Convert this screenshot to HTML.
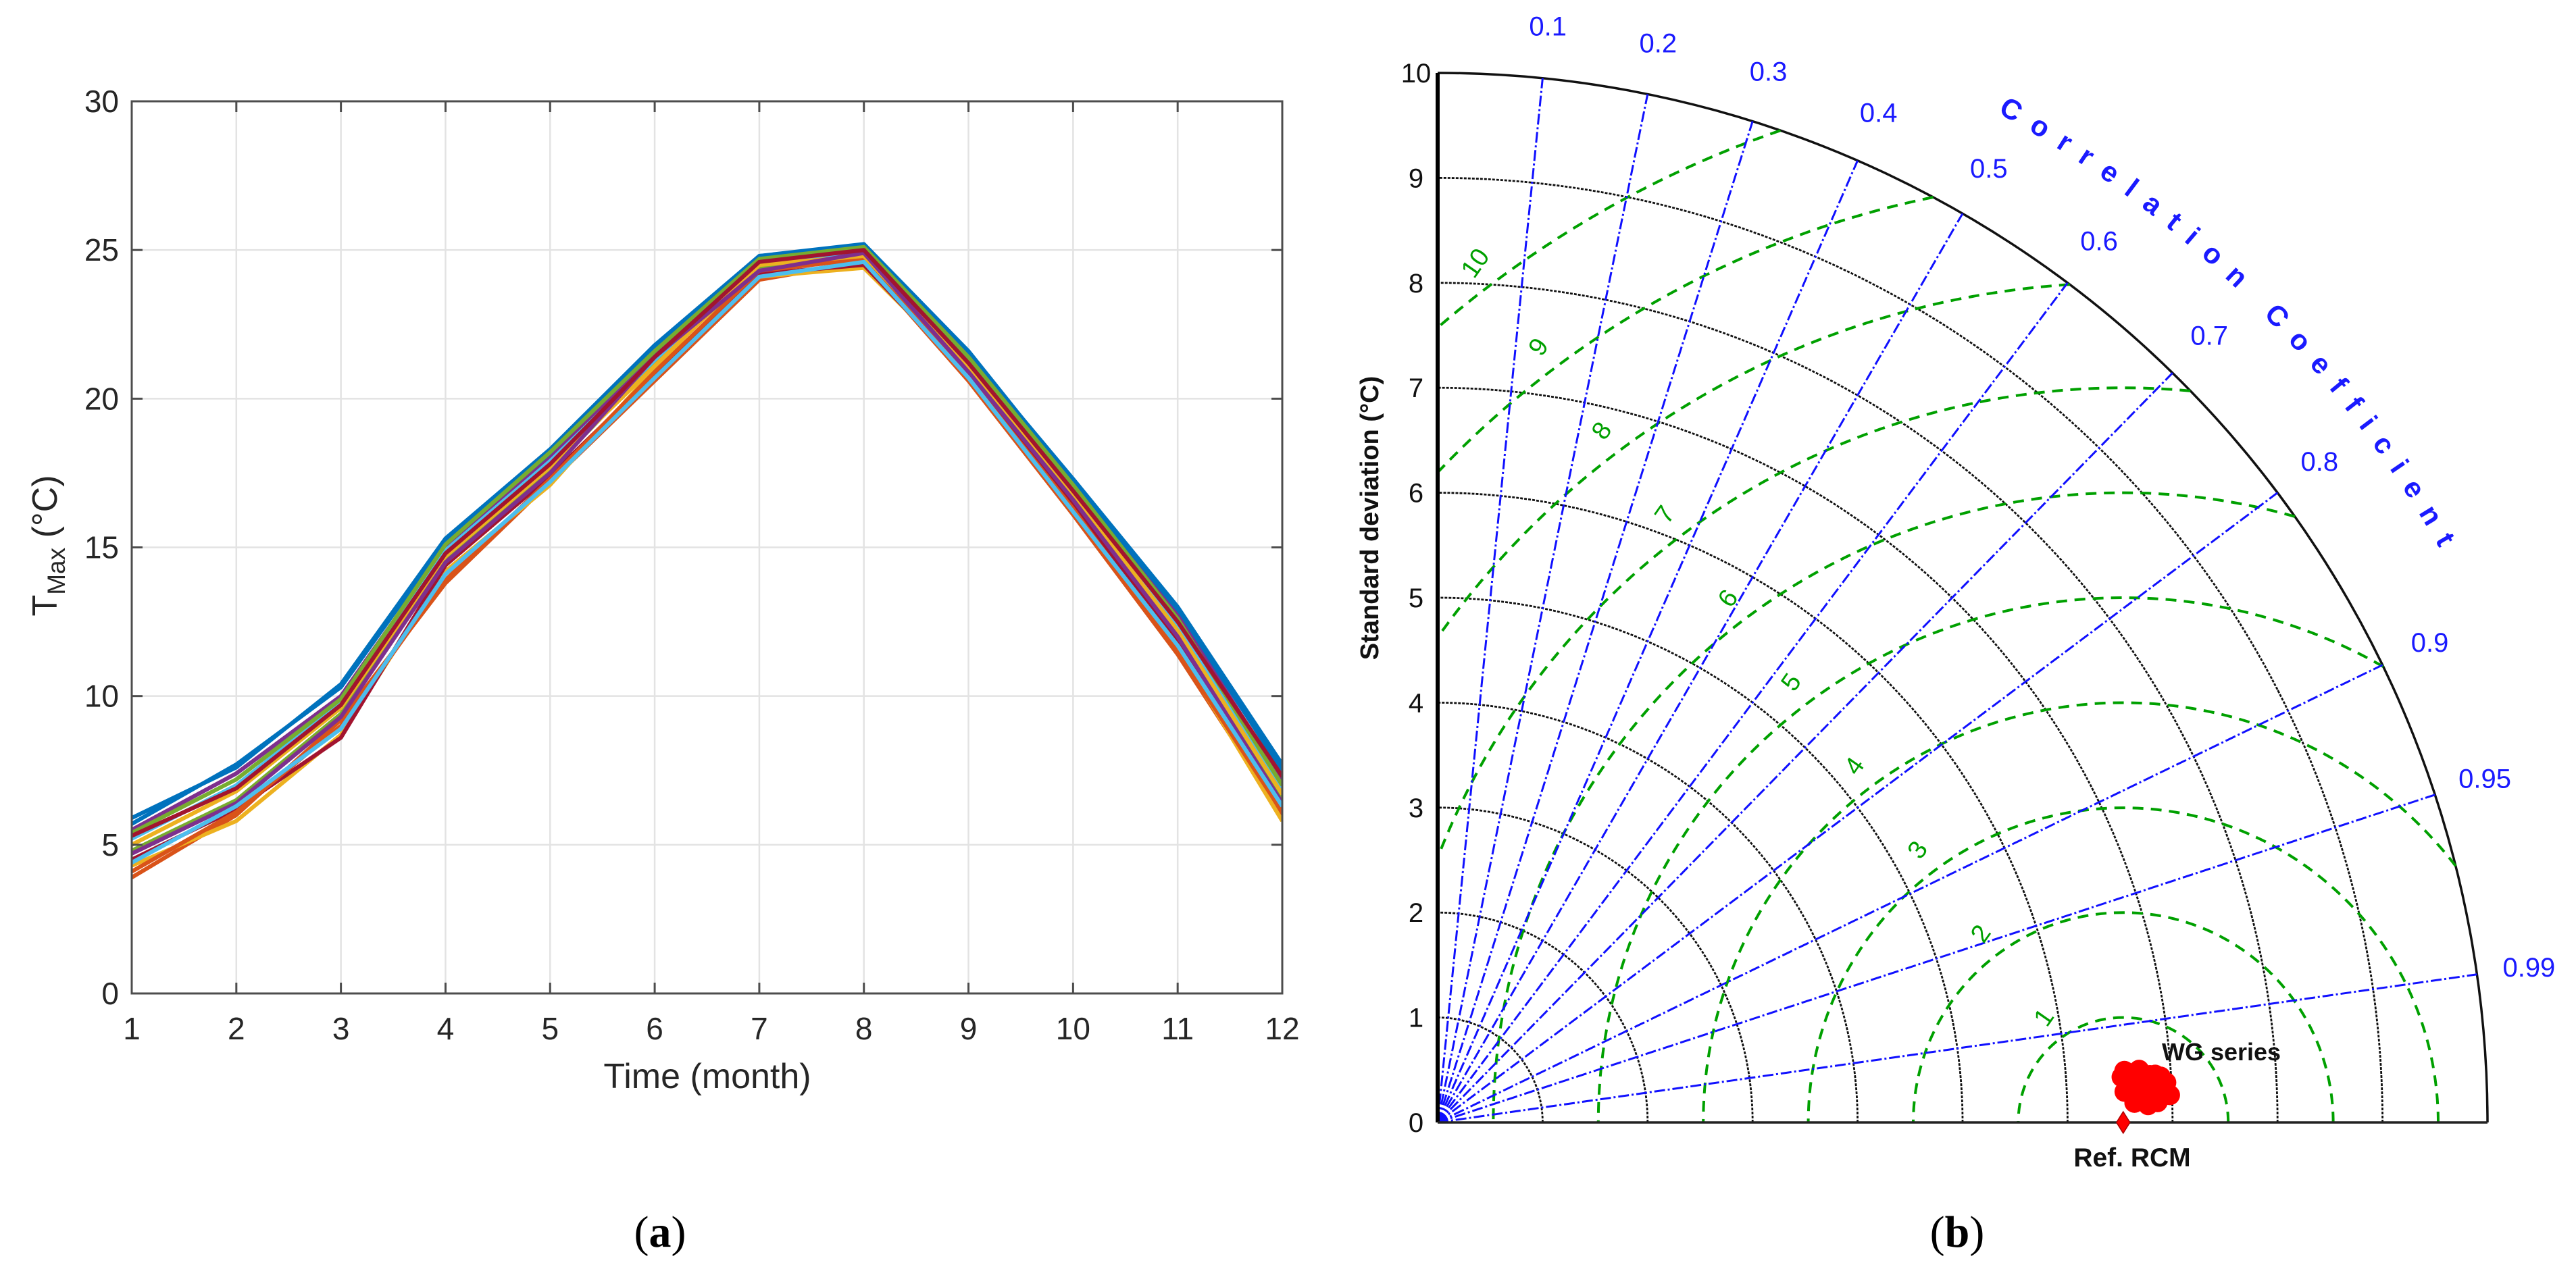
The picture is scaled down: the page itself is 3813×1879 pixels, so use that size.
<!DOCTYPE html>
<html><head><meta charset="utf-8"><title>Tmax series and Taylor diagram</title>
<style>
html,body{margin:0;padding:0;background:#fff;width:3813px;height:1879px;overflow:hidden;}
svg{display:block;font-family:"Liberation Sans",Arial,sans-serif;}
</style></head>
<body>
<svg id="fig" width="3813" height="1879" viewBox="0 0 3813 1879" xmlns="http://www.w3.org/2000/svg" overflow="hidden">
<defs>
<clipPath id="plotClip"><rect x="195" y="150" width="1703" height="1321"/></clipPath>
</defs>
<g id="left"></g>
<g id="right"></g>
<text x="977" y="1846" text-anchor="middle" font-family="Liberation Serif, serif" font-size="66">(<tspan font-weight="bold">a</tspan>)</text>
<text x="2897" y="1846" text-anchor="middle" font-family="Liberation Serif, serif" font-size="66">(<tspan font-weight="bold">b</tspan>)</text>
</svg>
<script>
// ---------- Left chart data ----------
const months = [1,2,3,4,5,6,7,8,9,10,11,12];
const yTicks = [0,5,10,15,20,25,30];
const s1  = [5.9,7.6,10.4,15.3,18.3,21.8,24.8,25.1,21.5,17.3,13.0,7.7];
const s2  = [3.9,6.0,9.2,13.8,17.2,20.6,24.0,24.6,20.6,16.1,11.4,6.0];
const s3  = [4.3,5.8,8.7,14.2,17.1,21.0,24.1,24.4,20.9,16.4,11.6,5.8];
const s4  = [5.5,7.4,10.0,15.0,18.0,21.5,24.7,25.0,21.3,17.0,12.7,7.2];
const s5  = [4.8,6.5,9.4,14.6,17.6,21.2,24.4,24.8,21.0,16.7,12.1,6.5];
const s6  = [5.2,7.0,9.8,14.9,17.9,21.3,24.6,24.9,21.2,16.9,12.4,6.9];
const s7  = [4.5,6.2,8.6,14.4,17.4,20.8,24.2,24.5,20.8,16.5,11.8,6.2];
const s8  = [5.7,7.7,10.3,15.2,18.1,21.7,24.8,25.2,21.6,17.2,12.9,7.5];
const s9  = [4.1,6.1,9.0,13.9,17.3,20.9,24.3,24.7,20.7,16.3,11.5,6.1];
const s10 = [5.0,6.8,9.6,14.7,17.7,21.1,24.5,24.8,21.1,16.8,12.2,6.7];
const s11 = [4.7,6.4,9.3,14.5,17.5,21.4,24.3,24.9,20.9,16.6,12.0,6.4];
const s12 = [5.4,7.2,9.9,15.1,18.2,21.6,24.7,25.1,21.4,17.1,12.6,7.0];
const s13 = [4.4,6.3,8.9,14.1,17.2,20.7,24.1,24.6,20.7,16.2,11.7,6.3];
const s14 = [5.3,6.9,9.7,14.8,17.8,21.4,24.6,25.0,21.2,16.9,12.5,7.3];
const allSeries = [s8,s2,s3,s4,s5,s6,s7,s1,s9,s10,s11,s12,s13,s14];

// ---------- Taylor data ----------
const stdTicks = [0,1,2,3,4,5,6,7,8,9,10];
const corrTicks = [0.1,0.2,0.3,0.4,0.5,0.6,0.7,0.8,0.9,0.95,0.99];
const corrLabels = ["0.1","0.2","0.3","0.4","0.5","0.6","0.7","0.8","0.9","0.95","0.99"];
const rmsLevels = [1,2,3,4,5,6,7,8,9,10];
const refStd = 6.53;
const wgStd  = [6.53,6.56,6.60,6.62,6.65,6.68,6.70,6.72,6.74,6.76,6.78,6.80,6.82,6.84,6.86,6.88,6.90,6.92,6.95,6.98,6.58,6.64,6.70,6.77,6.85,6.93,6.55,6.66,6.81,6.89];
const wgCorr = [0.9978,0.9972,0.9990,0.9975,0.9985,0.9990,0.9975,0.9995,0.9980,0.9988,0.9988,0.9978,0.9992,0.9983,0.9996,0.9986,0.9980,0.9990,0.9985,0.9993,0.9985,0.9996,0.9972,0.9997,0.9978,0.9988,0.9990,0.9980,0.9995,0.9994];

const NS = "http://www.w3.org/2000/svg";
function mk(tag, attrs, parent){
  const e = document.createElementNS(NS, tag);
  for (const k in attrs) e.setAttribute(k, attrs[k]);
  parent.appendChild(e);
  return e;
}

// ---------- Left chart ----------
const L = document.getElementById('left');
const X0=195, X1=1898, Y0=1471, Y1=150;
const xS = m => X0 + (m-1)*(X1-X0)/11;
const yS = v => Y0 - v*(Y0-Y1)/30;

months.forEach(m=>{
  const g = mk('line',{x1:xS(m),y1:Y1,x2:xS(m),y2:Y0,stroke:'#e3e3e3','stroke-width':2.5},L);
  
  
});
yTicks.forEach(v=>{
  const g = mk('line',{x1:X0,y1:yS(v),x2:X1,y2:yS(v),stroke:'#e3e3e3','stroke-width':2.5},L);
  
  
});

const colors = ['#0072BD','#D95319','#EDB120','#7E2F8E','#77AC30','#4DBEEE','#A2142F'];
const lg = mk('g',{'clip-path':'url(#plotClip)'},L);
allSeries.forEach((s,i)=>{
  const d = s.map((v,j)=>(j?'L':'M')+xS(months[j]).toFixed(1)+' '+yS(v).toFixed(1)).join(' ');
  const p = mk('path',{d:d,fill:'none',stroke:colors[i%colors.length],'stroke-width':6,'stroke-linejoin':'round'},lg);
  
  
});

const box = mk('rect',{x:X0,y:Y1,width:X1-X0,height:Y0-Y1,fill:'none',stroke:'#4d4d4d','stroke-width':3},L);



months.forEach(m=>{
  mk('line',{x1:xS(m),y1:Y0,x2:xS(m),y2:Y0-16,stroke:'#4d4d4d','stroke-width':3},L);
  mk('line',{x1:xS(m),y1:Y1,x2:xS(m),y2:Y1+16,stroke:'#4d4d4d','stroke-width':3},L);
  const t = mk('text',{x:xS(m),y:Y0+68,'text-anchor':'middle','font-size':46,fill:'#262626'},L);
  t.textContent = String(m);
  
  
});
yTicks.forEach(v=>{
  mk('line',{x1:X0,y1:yS(v),x2:X0+16,y2:yS(v),stroke:'#4d4d4d','stroke-width':3},L);
  mk('line',{x1:X1,y1:yS(v),x2:X1-16,y2:yS(v),stroke:'#4d4d4d','stroke-width':3},L);
  const t = mk('text',{x:176,y:yS(v)+16,'text-anchor':'end','font-size':46,fill:'#262626'},L);
  t.textContent = String(v);
  
  
});
const xt = mk('text',{x:1047,y:1611,'text-anchor':'middle','font-size':52,fill:'#262626'},L);
xt.textContent = 'Time (month)';


const yt = mk('text',{x:0,y:0,'text-anchor':'middle','font-size':52,fill:'#262626',transform:'translate(84,808) rotate(-90)'},L);
yt.innerHTML = 'T<tspan font-size="37" dy="12">Max</tspan><tspan dy="-12"> (°C)</tspan>';



// ---------- Taylor diagram ----------
const R = document.getElementById('right');
const OX=2128, OY=1662, U=155.4, SMAX=10;
const px = (r,th)=>OX + r*U*Math.cos(th);
const py = (r,th)=>OY - r*U*Math.sin(th);

stdTicks.forEach(s=>{
  if (s===0) return;
  const a = mk('path',{d:`M${OX+s*U} ${OY} A${s*U} ${s*U} 0 0 0 ${OX} ${OY-s*U}`,fill:'none',stroke:'#111',
    'stroke-width': s===10?3.5:2.8,'stroke-dasharray': s===10?'none':'4 2'},R);
  
  
});
// rms arcs, analytically clipped to the quarter disc
rmsLevels.forEach(k=>{
  const a = refStd;
  const cMax = Math.min(1,(SMAX*SMAX - a*a - k*k)/(2*a*k));
  const cMin = Math.max(-1,-a/k);
  const p0 = Math.acos(cMax), p1 = Math.acos(cMin);
  const x0 = OX + (a + k*Math.cos(p0))*U, y0 = OY - k*Math.sin(p0)*U;
  const x1 = OX + (a + k*Math.cos(p1))*U, y1 = OY - k*Math.sin(p1)*U;
  const large = (p1-p0) > Math.PI ? 1 : 0;
  const c = mk('path',{d:`M${x0.toFixed(1)} ${y0.toFixed(1)} A${k*U} ${k*U} 0 ${large} 0 ${x1.toFixed(1)} ${y1.toFixed(1)}`,fill:'none',stroke:'#00a000','stroke-width':4,'stroke-dasharray':'16 11'},R);
  
  
});
corrTicks.forEach((c,i)=>{
  const th = Math.acos(c);
  const l = mk('line',{x1:OX,y1:OY,x2:px(10,th),y2:py(10,th),stroke:'#1010ff','stroke-width':3,'stroke-dasharray':'16 4 3 4'},R);
  
  
  const t = mk('text',{x:px(10.5,th),y:py(10.5,th)+14,'text-anchor':'middle','font-size':40,fill:'#1a1aff'},R);
  t.textContent = corrLabels[i];
  
  
});
rmsLevels.forEach(k=>{
  const th = 127*Math.PI/180;
  const rr = k + 0.25;
  const x = OX + (refStd + rr*Math.cos(th))*U;
  const y = OY - rr*Math.sin(th)*U;
  if (x < OX+10) return;
  const t = mk('text',{x:x,y:y+12,'text-anchor':'middle','font-size':38,fill:'#00a000',transform:`rotate(-55 ${x} ${y})`},R);
  t.textContent = String(k);
  
  
});
const ax1 = mk('line',{x1:OX,y1:OY,x2:OX,y2:OY-10*U,stroke:'#000','stroke-width':6},R);


const ax2 = mk('line',{x1:OX,y1:OY,x2:OX+10*U,y2:OY,stroke:'#222','stroke-width':3.5},R);


stdTicks.forEach(s=>{
  const t = mk('text',{x:2096,y:OY-s*U+14,'text-anchor':'middle','font-size':40,fill:'#111'},R);
  t.textContent = String(s);
  
  
});
const st = mk('text',{x:0,y:0,'text-anchor':'middle','font-size':38,'font-weight':'bold',fill:'#111',transform:'translate(2040,767) rotate(-90)'},R);
st.textContent = 'Standard deviation (°C)';



const a1 = 61*Math.PI/180, a2 = 29.5*Math.PI/180, RT = 11.0;
mk('path',{id:'corrArc',d:`M${px(RT,a1)} ${py(RT,a1)} A${RT*U} ${RT*U} 0 0 1 ${px(RT,a2)} ${py(RT,a2)}`,fill:'none'},R);
const ct = mk('text',{'font-size':42,'font-weight':'bold',fill:'#1a1aff'},R);
ct.innerHTML = '<textPath href="#corrArc" textLength="930" lengthAdjust="spacing">Correlation Coefficient</textPath>';



wgStd.forEach((s,i)=>{
  const th = Math.acos(wgCorr[i]);
  const c = mk('circle',{cx:px(s,th),cy:py(s,th),r:15,fill:'#ff0000'},R);
  
  
});
const rx = OX + refStd*U;
const dm = mk('path',{d:`M${rx} ${OY-16} L${rx+10} ${OY} L${rx} ${OY+16} L${rx-10} ${OY} Z`,fill:'#ff0000',stroke:'#a00','stroke-width':1.5},R);


const wl = mk('text',{x:3200,y:1570,'font-size':36,'font-weight':'bold',fill:'#111'},R);
wl.textContent = 'WG series';


const rl = mk('text',{x:3156,y:1727,'text-anchor':'middle','font-size':39,'font-weight':'bold',fill:'#111'},R);
rl.textContent = 'Ref. RCM';


</script>
</body></html>
